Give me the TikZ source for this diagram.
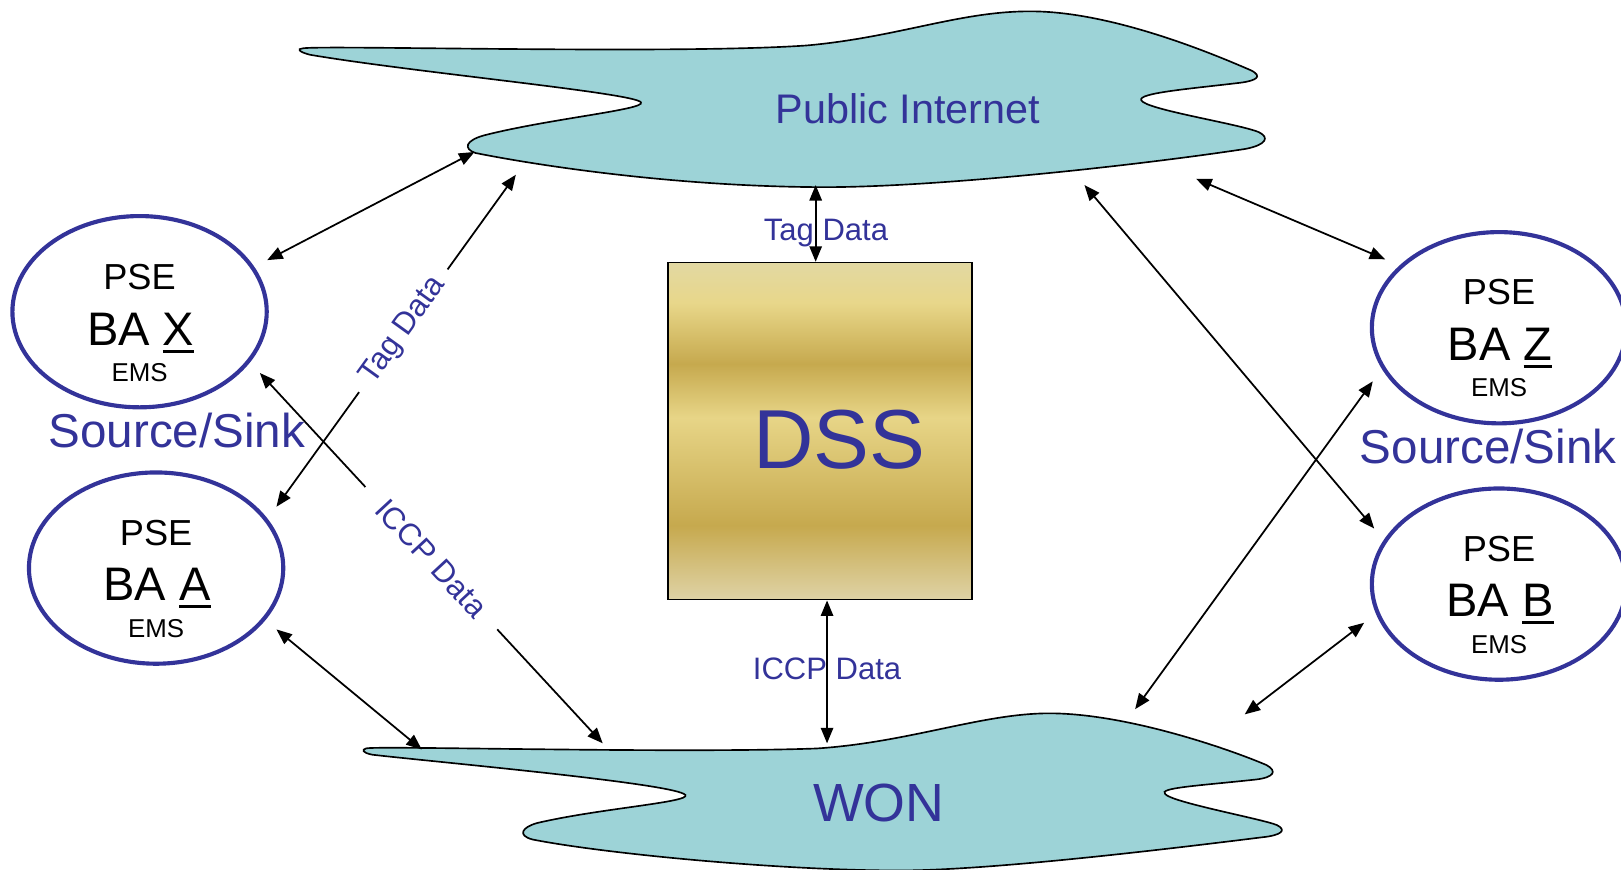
\documentclass[tikz,border=0pt]{standalone}
\usepackage{fontspec}
\setmainfont{Liberation Sans}
\usetikzlibrary{arrows.meta,calc,shapes.geometric}
\definecolor{cloudfill}{HTML}{9DD3D7}
\definecolor{navy}{HTML}{333399}
\definecolor{gA}{HTML}{E2D8A2}
\definecolor{gB}{HTML}{E8D78A}
\definecolor{gC}{HTML}{C6A94E}
\definecolor{gD}{HTML}{E7D587}
\definecolor{gE}{HTML}{C6A94E}
\definecolor{gF}{HTML}{DFD3A6}
\pgfdeclareverticalshading{dssgold}{100bp}{color(0bp)=(gF); color(25bp)=(gF); color(36bp)=(gE); color(52bp)=(gD); color(60bp)=(gC); color(69bp)=(gB); color(75bp)=(gA); color(100bp)=(gA)}
\newcommand{\setfs}[1]{\fontsize{#1}{#1}\selectfont}
\newcommand{\myul}[1]{\setbox0=\hbox{#1}\rlap{\rule[-7.5pt]{\wd0}{3pt}}\box0}
\begin{document}
\begin{tikzpicture}[x=1pt,y=-1pt,
  cloudshape/.style={fill=cloudfill, draw=black, line width=1.6pt},
  bael/.style={ellipse, draw=navy, line width=4pt, minimum width=246pt, minimum height=185pt, outer sep=16pt, inner sep=0pt},
  conn/.style={line width=1.7pt, {Triangle[length=15pt,width=12pt]}-{Triangle[length=15pt,width=12pt]}},
  lbl/.style={text=navy, font=\setfs{30}, anchor=base, inner sep=0pt},
  slbl/.style={text=navy, font=\setfs{30}, sloped, fill=white, inner ysep=1pt},
  bigl/.style={text=navy, anchor=base, inner sep=0pt},
  pse/.style={anchor=base, inner sep=0pt, font=\setfs{35}},
  ba/.style={anchor=base, inner sep=0pt, font=\setfs{45.5}},
  ems/.style={anchor=base, inner sep=0pt, font=\setfs{25}}]
\useasboundingbox (0,0) rectangle (1568,841);

% Public Internet cloud
\path[cloudshape] (292,47)
  .. controls (296,43) and (650,53) .. (780,44)
  .. controls (870,36) and (930,10) .. (1000,11)
  .. controls (1080,12) and (1180,55) .. (1210,68)
  .. controls (1222,74) and (1215,78) .. (1200,80)
  .. controls (1150,86) and (1100,90) .. (1104,97)
  .. controls (1108,106) and (1200,120) .. (1218,128)
  .. controls (1228,133) and (1225,140) .. (1205,144)
  .. controls (1100,160) and (900,182) .. (790,181)
  .. controls (650,180) and (520,160) .. (460,148)
  .. controls (448,144) and (450,136) .. (468,131)
  .. controls (530,115) and (625,106) .. (620,99)
  .. controls (615,90) and (400,70) .. (300,53)
  .. controls (288,50) and (288,47) .. (292,47) -- cycle;

% WON cloud
\path[cloudshape] (354,724)
  .. controls (358,721) and (650,729) .. (790,724)
  .. controls (880,718) and (950,690) .. (1015,690)
  .. controls (1090,690) and (1190,725) .. (1225,740)
  .. controls (1236,746) and (1232,752) .. (1215,754)
  .. controls (1160,760) and (1120,762) .. (1127,768)
  .. controls (1133,776) and (1220,792) .. (1235,798)
  .. controls (1245,803) and (1240,808) .. (1220,810)
  .. controls (1100,825) and (950,842) .. (870,842)
  .. controls (750,842) and (580,825) .. (515,812)
  .. controls (500,808) and (505,800) .. (520,796)
  .. controls (580,782) and (668,776) .. (663,769)
  .. controls (655,758) and (420,737) .. (360,730)
  .. controls (350,728) and (350,725) .. (354,724) -- cycle;

\node[bigl, font=\setfs{40}] (pitext) at (878,119) {Public Internet};
\node[bigl, font=\setfs{52}] (wontext) at (850,795) {WON};

% cloud connection points
\coordinate (pi1) at (459,147);
\coordinate (pi2) at (499,169);
\coordinate (pi3) at (789,179);
\coordinate (pi4) at (1049,179);
\coordinate (pi5) at (1157,173);
\coordinate (won1) at (408,725);
\coordinate (won2) at (583,719);
\coordinate (won3) at (800,719);
\coordinate (won4) at (1098,686);
\coordinate (won5) at (1204,691);

% DSS
\node[draw=black, line width=1.6pt, shade, shading=dssgold, minimum width=294pt, minimum height=326pt, inner sep=0pt] (DSS) at (793,417) {};
\node[bigl, font=\setfs{81}] (dsstext) at (812,453) {DSS};

% ellipses
\node[bael] (X) at (135,301.5) {};
\node[bael] (A) at (151,549.5) {};
\node[bael] (Z) at (1450,317) {};
\node[bael] (B) at (1450,565) {};

\node[pse] (Xp) at (135,280.5) {PSE};
\node[ba]  (Xb) at (136,334) {BA \myul{X}};
\node[ems] (Xe) at (135,369.5) {EMS};
\node[pse] (Ap) at (151,527.5) {PSE};
\node[ba]  (Ab) at (152,581) {BA \myul{A}};
\node[ems] (Ae) at (151,616.5) {EMS};
\node[pse] (Zp) at (1450,295) {PSE};
\node[ba]  (Zb) at (1451,348.5) {BA \myul{Z}};
\node[ems] (Ze) at (1450,384) {EMS};
\node[pse] (Bp) at (1450,543) {PSE};
\node[ba]  (Bb) at (1451,596.5) {BA \myul{B}};
\node[ems] (Be) at (1450,632) {EMS};

\node[bigl, font=\setfs{46}] (ssl) at (171,433) {Source/Sink};
\node[bigl, font=\setfs{46}] (ssr) at (1439.5,448) {Source/Sink};

% connectors
\draw[conn] (X.22) -- (pi1);
\draw[conn] (A.27) -- node[slbl, pos=0.53, inner xsep=13pt] (tagdiag) {Tag Data} (pi2);
\draw[conn] (X.-27) -- node[slbl, pos=0.50, inner xsep=22pt] (iccpdiag) {ICCP Data} (won2);
\draw[conn] (A.-27) -- (won1);
\draw[conn] (pi3) -- (pi3 |- DSS.north);
\draw[conn] (won3 |- DSS.south) -- (won3);
\draw[conn] (pi4) -- (B.156);
\draw[conn] (pi5) -- (Z.149);
\draw[conn] (Z.203) -- (won4);
\draw[conn] (B.196) -- (won5);

\node[lbl] (tagc) at (799,233) {Tag Data};
\node[lbl] (iccpc) at (800,657) {ICCP Data};
\end{tikzpicture}
\end{document}
